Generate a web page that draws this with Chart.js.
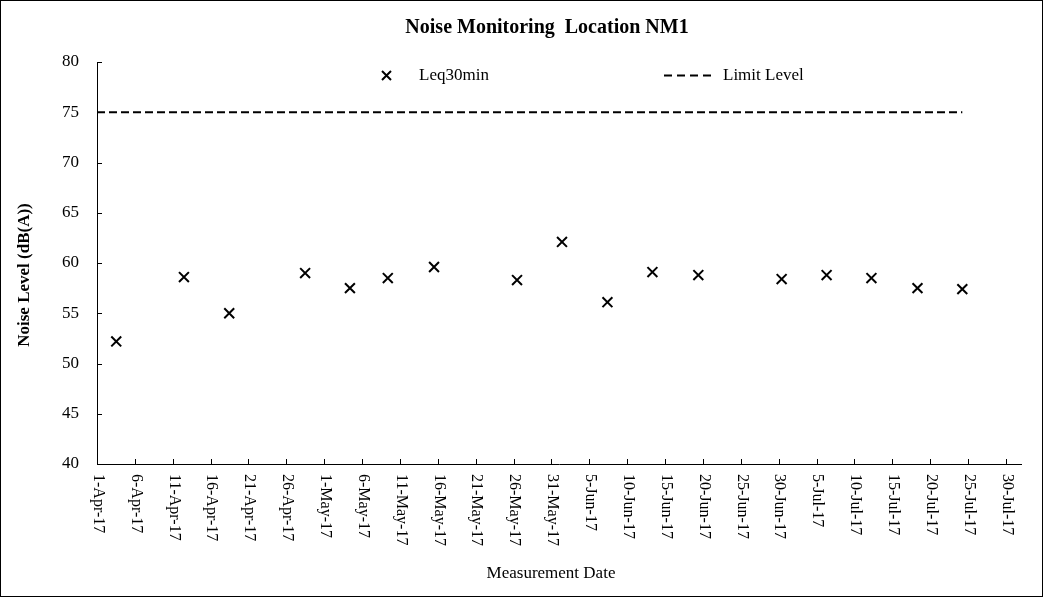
<html>
<head>
<script src="https://cdn.jsdelivr.net/npm/chart.js"></script>
<style>
  body { margin: 0; background: #fff; }
  #wrap { width: 1043px; height: 597px; position: relative; }
</style>
</head>
<body>
<div id="wrap"><canvas id="myChart"></canvas></div>
<script>
// measurement date/time and Leq30min readings (dB(A))
var measureDates = ['2017-04-03 13:00', '2017-04-12 11:30', '2017-04-18 11:00', '2017-04-28 11:30',
  '2017-05-04 09:30', '2017-05-09 09:30', '2017-05-15 12:00', '2017-05-26 11:00', '2017-06-01 09:30',
  '2017-06-07 09:30', '2017-06-13 08:00', '2017-06-19 09:30', '2017-06-30 09:30', '2017-07-06 08:00',
  '2017-07-12 06:00', '2017-07-18 08:00', '2017-07-24 06:00'];
var leqValues = [52.2, 58.6, 55.0, 59.0, 57.5, 58.5, 59.6, 58.3, 62.1, 56.1, 59.1, 58.8, 58.4, 58.8, 58.5, 57.5, 57.4];
var limitLevel = 75;

var xTickLabels = ['1-Apr-17', '6-Apr-17', '11-Apr-17', '16-Apr-17', '21-Apr-17', '26-Apr-17',
  '1-May-17', '6-May-17', '11-May-17', '16-May-17', '21-May-17', '26-May-17', '31-May-17',
  '5-Jun-17', '10-Jun-17', '15-Jun-17', '20-Jun-17', '25-Jun-17', '30-Jun-17',
  '5-Jul-17', '10-Jul-17', '15-Jul-17', '20-Jul-17', '25-Jul-17', '30-Jul-17'];
var xAxisStart = '1-Apr-17';
var xAxisEnd = '1-Aug-17';

var months = ['Jan','Feb','Mar','Apr','May','Jun','Jul','Aug','Sep','Oct','Nov','Dec'];
var DAY = 86400000;
var origin = Date.UTC(2017, 3, 1);

// "1-Apr-17" -> days since origin
function labelToDay(s) {
  var p = s.split('-');
  return (Date.UTC(2000 + parseInt(p[2]), months.indexOf(p[1]), parseInt(p[0])) - origin) / DAY;
}
// "2017-04-03 11:00" -> days since origin
function dateToDay(s) {
  var d = s.split(' ')[0].split('-');
  var t = s.split(' ')[1].split(':');
  return (Date.UTC(+d[0], +d[1] - 1, +d[2], +t[0], +t[1]) - origin) / DAY;
}

var serif = "'Liberation Serif', 'Times New Roman', serif";
var leqPoints = measureDates.map(function(d, i) { return {x: dateToDay(d), y: leqValues[i]}; });
var limitPoints = [{x: labelToDay(xAxisStart), y: limitLevel}, {x: dateToDay(measureDates[measureDates.length - 1]), y: limitLevel}];

var decor = {
  id: 'decor',
  afterDraw: function(chart) {
    var ctx = chart.ctx;
    var xs = chart.scales.x, ys = chart.scales.y;
    var area = chart.chartArea;
    ctx.save();
    ctx.fillStyle = '#000';
    ctx.strokeStyle = '#000';
    ctx.lineWidth = 1;
    // outer frame
    ctx.strokeRect(0.5, 0.5, chart.width - 1, chart.height - 1);

    // inward tick marks
    ctx.beginPath();
    xs.ticks.forEach(function(t) {
      var px = Math.round(xs.getPixelForValue(t.value)) + 0.5;
      ctx.moveTo(px, area.bottom); ctx.lineTo(px, area.bottom - 5);
    });
    ys.ticks.forEach(function(t) {
      var py = Math.round(ys.getPixelForValue(t.value)) + 0.5;
      ctx.moveTo(area.left, py); ctx.lineTo(area.left + 5, py);
    });
    ctx.stroke();

    // x tick labels, reading downward
    ctx.font = '16px ' + serif;
    ctx.textAlign = 'left';
    ctx.textBaseline = 'middle';
    xs.ticks.forEach(function(t, i) {
      var px = xs.getPixelForValue(t.value);
      ctx.save();
      ctx.translate(px + 1, area.bottom + 10);
      ctx.rotate(Math.PI / 2);
      ctx.fillText(xTickLabels[i], 0, 0);
      ctx.restore();
    });

    // titles
    ctx.textAlign = 'center';
    ctx.font = 'bold 20px ' + serif;
    ctx.fillText('Noise Monitoring  Location NM1', 547, 28);
    ctx.font = '17px ' + serif;
    ctx.fillText('Measurement Date', 551, 574);
    ctx.save();
    ctx.translate(25, 275);
    ctx.rotate(-Math.PI / 2);
    ctx.font = 'bold 17px ' + serif;
    ctx.fillText('Noise Level (dB(A))', 0, 0);
    ctx.restore();

    // legend
    ctx.lineWidth = 2;
    ctx.beginPath();
    ctx.moveTo(382, 71); ctx.lineTo(391, 80);
    ctx.moveTo(391, 71); ctx.lineTo(382, 80);
    ctx.stroke();
    ctx.setLineDash([8, 5]);
    ctx.beginPath();
    ctx.moveTo(664, 75.5); ctx.lineTo(714, 75.5);
    ctx.stroke();
    ctx.setLineDash([]);
    ctx.font = '17px ' + serif;
    ctx.textAlign = 'left';
    ctx.fillText('Leq30min', 419, 76);
    ctx.fillText('Limit Level', 723, 76);
    ctx.restore();
  }
};

var ctx = document.getElementById('myChart').getContext('2d');
var myChart = new Chart(ctx, {
  type: 'scatter',
  data: {
    datasets: [
      {
        label: 'Leq30min',
        data: leqPoints,
        pointStyle: 'crossRot',
        pointRadius: 7,
        pointHoverRadius: 7,
        borderWidth: 2,
        borderColor: '#000',
        backgroundColor: '#000'
      },
      {
        label: 'Limit Level',
        data: limitPoints,
        showLine: true,
        borderColor: '#000',
        borderWidth: 2,
        borderDash: [8, 4],
        pointRadius: 0,
        fill: false
      }
    ]
  },
  plugins: [decor],
  options: {
    responsive: true,
    maintainAspectRatio: false,
    animation: false,
    layout: { padding: { top: 62, right: 22, left: 0, bottom: 0 } },
    plugins: {
      legend: { display: false },
      title: { display: false },
      tooltip: { enabled: false }
    },
    scales: {
      x: {
        type: 'linear',
        min: labelToDay(xAxisStart),
        max: labelToDay(xAxisEnd),
        afterBuildTicks: function(scale) {
          scale.ticks = xTickLabels.map(function(l) { return {value: labelToDay(l)}; });
        },
        afterFit: function(scale) { scale.height = 133; },
        grid: { display: false, drawTicks: false },
        border: { display: true, color: '#000', width: 1 },
        ticks: { display: false }
      },
      y: {
        min: 40,
        max: 80,
        afterFit: function(scale) { scale.width = 97; },
        grid: { display: false, drawTicks: false },
        border: { display: true, color: '#000', width: 1 },
        ticks: {
          stepSize: 5,
          padding: 18,
          color: '#000',
          font: { family: serif, size: 17 }
        }
      }
    }
  }
});
</script>
</body>
</html>
